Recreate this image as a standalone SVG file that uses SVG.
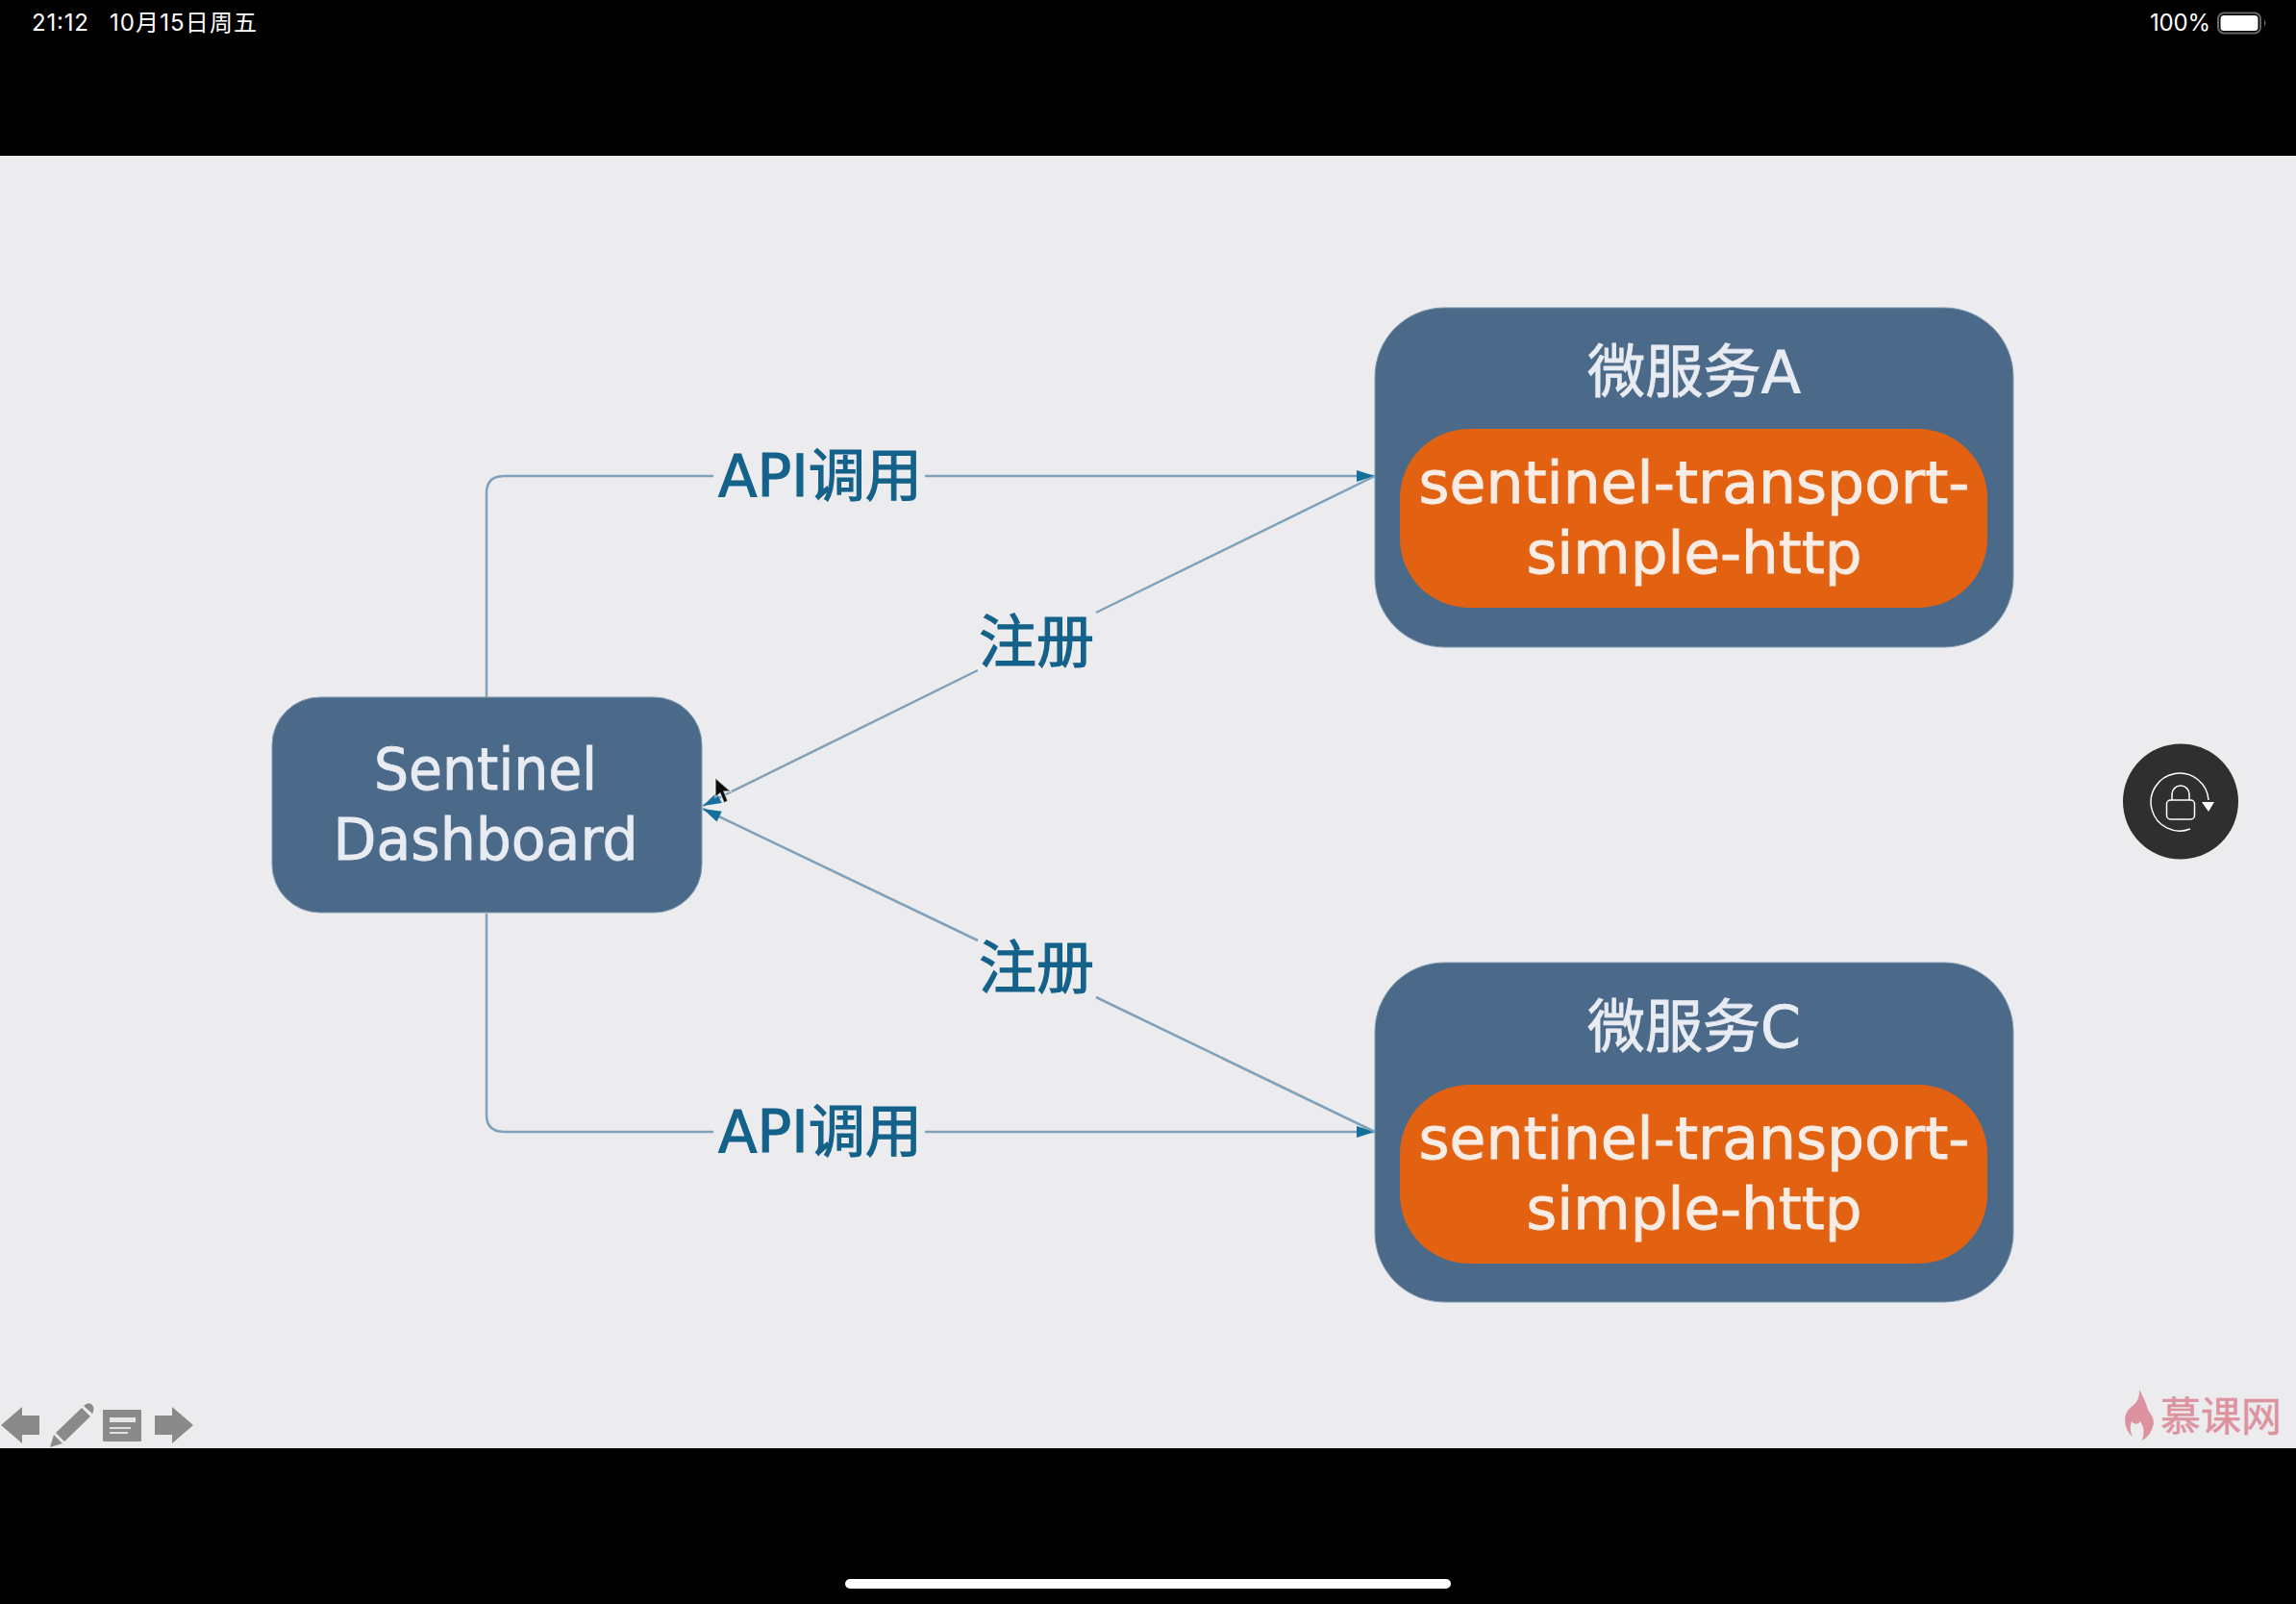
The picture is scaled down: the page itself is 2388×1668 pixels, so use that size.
<svg xmlns="http://www.w3.org/2000/svg" width="2388" height="1668" viewBox="0 0 2388 1668">
<style>
.box{fill:#4b6a8a;stroke:#7f9ab2;stroke-width:1}
.inner{fill:#e26212}
.t{font-family:"DejaVu Sans","Noto Sans CJK SC",sans-serif;font-size:60px;text-anchor:middle;stroke-width:.9px}
.w{fill:#e8ecf2;stroke:#e8ecf2}
.o{fill:#f9ece4;stroke:#f9ece4}
.lab{font-family:"DejaVu Sans","Noto Sans CJK SC",sans-serif;font-size:60px;text-anchor:middle;fill:#14628a;stroke:#14628a;stroke-width:1.2px}
.c{fill:none;stroke:#7fa1ba;stroke-width:2.500}
.st{font-family:"Inter","Noto Sans CJK SC",sans-serif;font-size:24px;fill:#fff}
.ic{fill:#8a8a8a}
</style>
<defs>
<marker id="a" markerUnits="userSpaceOnUse" markerWidth="22" markerHeight="14" refX="20" refY="7" orient="auto">
<path d="M1,1 L20,7 L1,13 Z" fill="#14709a"/>
</marker>
</defs>
<rect id="background" width="2388" height="1668" fill="#000"/>
<rect id="slide" x="0" y="162" width="2388" height="1344" fill="#ecebee"/>

<g id="connectors">
<path class="c" marker-end="url(#a)" d="M506,725 V513 Q506,495 524,495 H742 M962,495 H1430"/>
<path class="c" marker-end="url(#a)" d="M506,950 V1159 Q506,1177 524,1177 H742 M962,1177 H1430"/>
<path class="c" marker-end="url(#a)" d="M1430,495 L1140,637 M1017,697 L731,838"/>
<path class="c" marker-end="url(#a)" d="M1430,1177 L1140,1037 M1017,978 L731,841"/>
</g>

<g id="label-api-a"><text class="lab" x="853" y="516" textLength="212" lengthAdjust="spacingAndGlyphs">API调用</text></g>
<g id="label-reg-a"><text class="lab" x="1078" y="689">注册</text></g>
<g id="label-reg-c"><text class="lab" x="1078" y="1028">注册</text></g>
<g id="label-api-c"><text class="lab" x="853" y="1198" textLength="212" lengthAdjust="spacingAndGlyphs">API调用</text></g>

<g id="sentinel-dashboard">
<rect class="box" x="283" y="725" width="447" height="224" rx="50"/>
<text class="t w" x="505" y="821" textLength="232" lengthAdjust="spacingAndGlyphs">Sentinel</text>
<text class="t w" x="505" y="894" textLength="317" lengthAdjust="spacingAndGlyphs">Dashboard</text>
</g>

<g id="service-a">
<rect class="box" x="1430" y="320" width="664" height="353" rx="72"/>
<text class="t w" x="1762" y="408" textLength="222" lengthAdjust="spacingAndGlyphs">微服务A</text>
<rect class="inner" x="1456" y="446" width="611" height="186" rx="72"/>
<text class="t o" x="1762" y="523" textLength="573" lengthAdjust="spacingAndGlyphs">sentinel-transport-</text>
<text class="t o" x="1762" y="596" textLength="349" lengthAdjust="spacingAndGlyphs">simple-http</text>
</g>

<g id="service-c">
<rect class="box" x="1430" y="1001" width="664" height="353" rx="72"/>
<text class="t w" x="1762" y="1089" textLength="222" lengthAdjust="spacingAndGlyphs">微服务C</text>
<rect class="inner" x="1456" y="1128" width="611" height="186" rx="72"/>
<text class="t o" x="1762" y="1205" textLength="573" lengthAdjust="spacingAndGlyphs">sentinel-transport-</text>
<text class="t o" x="1762" y="1278" textLength="349" lengthAdjust="spacingAndGlyphs">simple-http</text>
</g>

<path id="cursor" d="M744,809 L744,829 L749,825 L753,835 L757,833 L753,823 L760,823 Z" fill="#0c0c0c" stroke="#fff" stroke-opacity=".6" stroke-width="1.5"/>

<g id="status-bar">
<text class="st" x="33" y="32" textLength="59">21:12</text>
<text class="st" x="114" y="32" textLength="153">10月15日周五</text>
<text class="st" x="2236" y="32" textLength="63">100%</text>
<rect x="2307" y="13.500" width="44" height="21" rx="6" fill="none" stroke="#666" stroke-width="2"/>
<rect x="2309.500" y="16" width="39" height="16" rx="3.500" fill="#fff"/>
<path d="M2355,20 Q2358,24 2355,28 Z" fill="#666"/>
</g>

<rect id="home-bar" x="879" y="1642" width="630" height="10" rx="5" fill="#fff"/>

<g id="lock-button">
<circle cx="2268" cy="833.500" r="60" fill="#2f2f2f"/>
<path d="M2278,862 A30,30 0 1 1 2297,832" fill="none" stroke="#fff" stroke-width="1.500"/>
<path d="M2290,834 H2303 L2297,844 Z" fill="#fff"/>
<rect x="2253.500" y="832" width="29" height="20" rx="4" fill="none" stroke="#fff" stroke-width="1.500"/>
<path d="M2259,832 V826 A9,9 0 0 1 2277,826 V832" fill="none" stroke="#fff" stroke-width="1.500"/>
</g>

<g id="toolbar">
<path class="ic" d="M1,1482 L23,1463 V1472 H41 V1492 H23 V1501 Z"/>
<path class="ic" d="M52,1505 L56,1492 L65,1501 Z M58,1490 L85,1464 L94,1473 L67,1499 Z M87,1462 Q92,1457 96,1461 Q99,1465 96,1470 Z"/>
<rect class="ic" x="107" y="1466" width="40" height="33" rx="1"/>
<rect x="114" y="1474" width="27" height="5" fill="#e6e6e6"/>
<rect x="114" y="1484" width="22" height="2" fill="#e0e0e0"/>
<rect x="114" y="1489" width="19" height="2" fill="#e0e0e0"/>
<path class="ic" d="M201,1482 L179,1463 V1472 H161 V1492 H179 V1501 Z"/>
</g>

<g id="watermark">
<path d="M2225,1445 Q2232,1458 2234,1466 Q2240,1474 2240,1480 Q2238,1492 2228,1498 Q2232,1486 2226,1478 Q2222,1484 2217,1478 Q2214,1486 2218,1494 Q2210,1488 2210,1474 Q2212,1466 2218,1462 Q2226,1456 2225,1445 Z" fill="#dd939f"/>
<text x="2247" y="1488" font-family="'Noto Sans CJK SC',sans-serif" font-size="42" fill="#dd939f" stroke="#dd939f" stroke-width=".5" textLength="126">慕课网</text>
</g>
</svg>
